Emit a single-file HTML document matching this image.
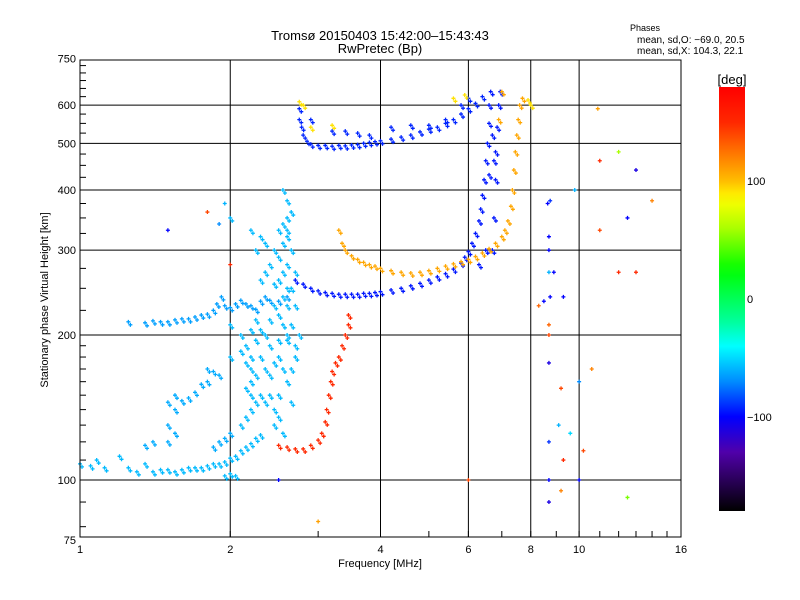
<!DOCTYPE html>
<html><head><meta charset="utf-8"><style>
body{margin:0;background:#fff;}
svg{display:block;font-family:"Liberation Sans","DejaVu Sans",sans-serif;}
</style></head><body>
<svg id="chart" width="800" height="600" viewBox="0 0 800 600" xmlns="http://www.w3.org/2000/svg">
<rect width="800" height="600" fill="#fff"/>
<text x="380" y="40" font-size="13" text-anchor="middle">Tromsø 20150403 15:42:00–15:43:43</text>
<text x="380" y="53" font-size="13" text-anchor="middle">RwPretec (Bp)</text>
<text x="645" y="31" font-size="9" text-anchor="middle">Phases</text>
<text x="637" y="43" font-size="10" text-anchor="start">mean, sd,O: −69.0, 20.5</text>
<text x="637" y="54" font-size="10" text-anchor="start">mean, sd,X: 104.3, 22.1</text>
<g id="grid"></g>
<g id="marks"></g>
<rect x="80" y="60" width="601" height="477" fill="none" stroke="#000" stroke-width="1"/>
<g id="axes"></g>
<text x="380" y="567" font-size="11" text-anchor="middle">Frequency [MHz]</text>
<text x="48" y="300" font-size="11" text-anchor="middle" transform="rotate(-90 48 300)">Stationary phase Virtual Height [km]</text>
<defs><linearGradient id="cb" x1="0" y1="0" x2="0" y2="1"></linearGradient></defs>
<rect x="719" y="87" width="26" height="424" fill="url(#cb)"/>
<text x="732" y="84" font-size="13" text-anchor="middle">[deg]</text>
<g id="cbticks"></g>
</svg>
<script>
const xTicks=[1,2,4,6,8,10,16];
const xGrid=[2,4,6,8,10];
const yTicks=[75,100,200,300,400,500,600,750];
const yGrid=[100,200,300,400,500,600];
const cbTicks=[100,0,-100];
const traceLowO=[[1.0,108],[1.05,107],[1.08,110],[1.12,106],[1.2,112],[1.25,106],[1.3,104],[1.35,108],[1.4,104],[1.45,105],[1.5,105],[1.55,104],[1.6,105],[1.65,106],[1.7,106],[1.75,106],[1.8,107],[1.85,108],[1.9,108],[1.95,109],[2.0,111],[2.05,112],[2.1,115],[2.15,117],[2.2,119],[2.25,122],[2.3,124],[1.95,102],[2.0,103],[2.05,102]];
const traceF215=[[1.25,213],[1.35,212],[1.4,214],[1.45,213],[1.5,213],[1.55,215],[1.6,216],[1.65,216],[1.7,218],[1.75,220],[1.8,221],[1.85,225],[1.88,232],[1.92,240],[1.95,230],[2.0,228],[2.05,232],[2.1,236],[2.15,232],[2.2,230],[2.25,226],[2.3,235],[2.35,240],[2.4,236],[2.5,235],[2.6,240]];
const traceLoops=[[1.5,145],[1.55,140],[1.55,150],[1.6,146],[1.65,148],[1.7,152],[1.75,158],[1.8,160],[1.8,170],[1.85,168],[1.9,165],[1.5,130],[1.55,125],[1.5,120],[1.4,120],[1.9,120],[1.95,122],[2.0,125],[1.85,117],[1.35,118]];
const traceCloud=[[2.1,130],[2.15,135],[2.2,140],[2.25,145],[2.2,150],[2.15,155],[2.2,160],[2.25,165],[2.2,170],[2.15,175],[2.2,180],[2.1,185],[2.15,190],[2.25,195],[2.3,180],[2.35,170],[2.4,165],[2.45,175],[2.5,180],[2.55,170],[2.4,190],[2.35,200],[2.3,205],[2.5,195],[2.6,200],[2.55,210],[2.5,220],[2.45,230],[2.55,240],[2.6,250],[2.5,260],[2.55,270],[2.6,280],[2.5,290],[2.45,300],[2.55,310],[2.6,320],[2.5,330],[2.55,340],[2.6,350],[2.65,360],[2.6,380],[2.55,400],[2.6,330],[2.65,300],[2.7,270],[2.65,250],[2.7,230],[2.65,210],[2.6,195],[2.7,190],[2.75,200],[2.3,150],[2.35,145],[2.4,150],[2.45,140],[2.5,150],[2.6,160],[2.65,170],[2.2,205],[2.25,215],[2.4,215],[2.3,260],[2.35,270],[2.25,300],[2.3,320],[2.35,310],[2.2,330],[2.0,350],[2.4,280],[2.45,255],[2.6,230],[2.7,180],[2.65,145],[2.5,135],[2.55,125],[2.45,130],[2.0,210],[2.1,200],[2.0,180]];
const traceMainO=[[2.7,260],[2.8,255],[2.9,250],[3.0,247],[3.1,245],[3.2,244],[3.3,243],[3.4,243],[3.5,243],[3.6,243],[3.7,244],[3.8,244],[3.9,245],[4.0,246],[4.2,248],[4.4,250],[4.6,253],[4.8,256],[5.0,260],[5.2,264],[5.4,268],[5.6,274],[5.8,282],[5.9,290],[6.0,298],[6.1,310],[6.2,325],[6.3,345],[6.35,365],[6.4,390],[6.45,420],[6.5,460],[6.55,500],[6.6,550],[6.6,600],[6.65,640],[6.7,520],[6.75,460],[6.6,430],[6.5,300],[6.3,280],[6.7,300],[6.75,350],[6.8,420],[6.8,480],[6.85,540],[6.9,600],[6.95,640]];
const traceTop=[[2.75,590],[2.75,560],[2.78,540],[2.8,520],[2.85,505],[2.9,498],[3.0,495],[3.1,495],[3.2,493],[3.3,495],[3.4,494],[3.5,496],[3.6,497],[3.7,500],[3.8,502],[3.9,504],[4.0,506],[4.2,510],[4.4,515],[4.6,520],[4.8,528],[5.0,535],[5.2,540],[5.4,550],[5.6,560],[5.8,575],[6.0,590],[6.2,605],[6.4,625],[3.2,530],[3.4,530],[3.6,525],[3.8,520],[4.2,540],[4.6,545],[5.0,545],[5.4,560],[5.8,600],[6.0,620],[2.9,560]];
const traceX=[[3.3,330],[3.35,310],[3.4,300],[3.5,292],[3.6,287],[3.7,283],[3.8,280],[3.9,278],[4.0,275],[4.2,272],[4.4,270],[4.6,269],[4.8,270],[5.0,272],[5.2,275],[5.4,278],[5.6,281],[5.8,284],[6.0,287],[6.2,291],[6.4,296],[6.6,302],[6.8,310],[7.0,320],[7.1,330],[7.2,345],[7.3,370],[7.35,400],[7.4,440],[7.45,480],[7.5,520],[7.55,560],[7.6,600],[7.7,620],[6.9,560],[7.0,640]];
const traceLowX=[[2.5,118],[2.6,117],[2.7,116],[2.8,116],[2.9,118],[3.0,121],[3.05,125],[3.1,132],[3.12,140],[3.15,150],[3.18,160],[3.2,168],[3.25,175],[3.3,180],[3.35,190],[3.4,200],[3.45,210],[3.45,220]];
const traceYellow=[[2.75,610],[2.8,600],[2.9,540],[3.2,545],[5.6,620],[5.9,630],[7.9,615],[8.0,600]];
const traceScatter=[[8.7,100,-100],[8.7,120,-90],[8.7,175,-110],[8.7,200,140],[8.7,210,130],[8.75,240,-100],[8.7,270,-60],[8.7,300,-100],[8.7,320,-100],[8.75,380,-90],[8.65,375,-100],[8.7,90,-110],[9.2,95,120],[9.2,155,140],[9.1,130,-60],[9.3,110,150],[10,100,-100],[9.8,400,-60],[10.2,115,140],[10.9,590,110],[12,480,60],[11,460,150],[11,330,140],[12.5,350,-100],[13,440,-110],[12,270,150],[13,270,150],[14,380,120],[12.5,92,50],[10.6,170,120],[10,160,-70],[9.6,125,-50],[8.5,235,-100],[8.9,270,-100],[9.3,240,-100],[8.3,230,130],[6.0,100,140],[2.5,100,-100],[3.0,82,110],[1.5,330,-100],[1.9,340,-70],[1.95,375,-60],[1.8,360,140],[2.0,280,150]];
const tracePhases=[[traceLowO,-58],[traceF215,-65],[traceLoops,-62],[traceCloud,-58],[traceMainO,-95],[traceTop,-92],[traceX,108],[traceLowX,150],[traceYellow,92]];

const NS="http://www.w3.org/2000/svg";
function xs(f){return 80+150.25*Math.log2(f);}
function ys(h){return 480-145*Math.log2(h/100);}
const stops=[[180,[255,0,0]],[150,[255,40,0]],[120,[255,130,0]],[100,[255,190,0]],[85,[255,255,0]],[60,[170,255,0]],[25,[0,255,0]],[-20,[0,255,160]],[-40,[0,255,255]],[-70,[0,140,255]],[-100,[0,0,255]],[-130,[80,0,170]],[-180,[0,0,0]]];
function col(p){for(let i=0;i<stops.length-1;i++){const a=stops[i],b=stops[i+1];if(p<=a[0]&&p>=b[0]){const t=(a[0]-p)/(a[0]-b[0]);const c=a[1].map((v,k)=>Math.round(v+(b[1][k]-v)*t));return `rgb(${c[0]},${c[1]},${c[2]})`;}}return p>180?'rgb(255,0,0)':'rgb(0,0,0)';}
function mk(tag,attrs,parent){const e=document.createElementNS(NS,tag);for(const k in attrs)e.setAttribute(k,attrs[k]);parent.appendChild(e);return e;}
const grid=document.getElementById('grid'),axes=document.getElementById('axes'),marks=document.getElementById('marks');
xGrid.forEach(f=>{const l=mk('line',{x1:xs(f),x2:xs(f),y1:60,y2:537,stroke:'#000'},grid);

});
yGrid.forEach(h=>{const l=mk('line',{x1:80,x2:681,y1:ys(h),y2:ys(h),stroke:'#000'},grid);

});
xTicks.forEach(f=>{const t=mk('text',{x:xs(f),y:553,'font-size':11,'text-anchor':'middle'},axes);t.textContent=f;

});
yTicks.forEach(h=>{const t=mk('text',{x:76,y:ys(h)+4,'font-size':11,'text-anchor':'end'},axes);t.textContent=h;

});
for(let f=1;f<=16;f++){mk('line',{x1:xs(f),x2:xs(f),y1:537,y2:531,stroke:'#000'},axes);}
const ym=[80,90,110,120,130,140,150,160,170,180,190,225,250,275,325,350,375,425,450,475,525,550,575,625,650,675,700,725];
ym.forEach(h=>{mk('line',{x1:80,x2:86,y1:ys(h),y2:ys(h),stroke:'#000'},axes);});
function plus(x,y,c){mk('path',{d:`M${x-2} ${y}h4M${x} ${y-2}v4`,stroke:c,'stroke-width':1.3},marks);}
tracePhases.forEach(([arr,ph])=>{arr.forEach(p=>{const x=xs(p[0]),y=ys(p[1]),c=col(ph);plus(x,y,c);plus(x+2,y+3,c);});});
traceScatter.forEach(p=>{plus(xs(p[0]),ys(p[1]),col(p[2]));});
const g=document.getElementById('cb');
for(let p=180;p>=-180;p-=10){mk('stop',{offset:((180-p)/360),'stop-color':col(p)},g);}
const cbt=document.getElementById('cbticks');
cbTicks.forEach(v=>{const y=87+(180-v)/360*424;const t=mk('text',{x:747,y:y+4,'font-size':11},cbt);t.textContent=v===-100?'−100':v;

});
</script>
</body></html>
